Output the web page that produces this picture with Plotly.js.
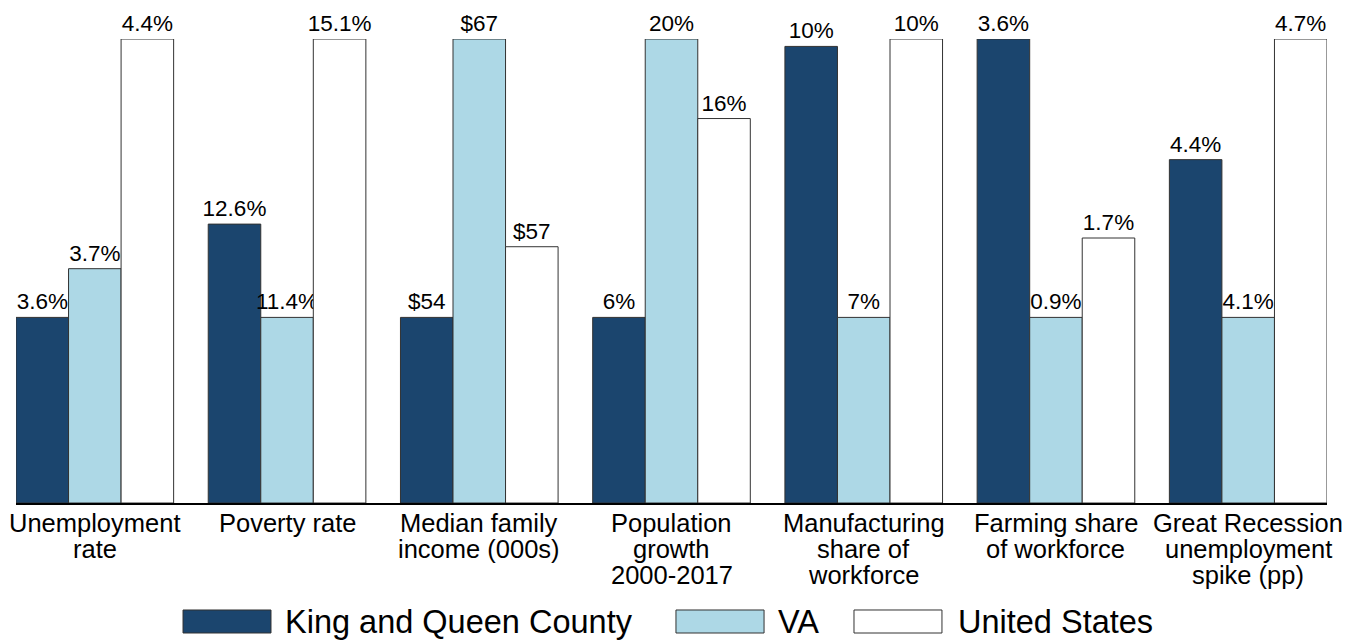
<!DOCTYPE html>
<html>
<head>
<meta charset="utf-8">
<script src="https://cdn.plot.ly/plotly-3.0.1.min.js"></script>
<style>
html,body{margin:0;padding:0;background:#fff;}
#chart{width:1361px;height:640px;}
</style>
</head>
<body>
<div id="chart"></div>
<script>
// ---- data ----
var categories = [
  "Unemployment<br>rate",
  "Poverty rate",
  "Median family<br>income (000s)",
  "Population<br>growth<br>2000-2017",
  "Manufacturing<br>share of<br>workforce",
  "Farming share<br>of workforce",
  "Great Recession<br>unemployment<br>spike (pp)"
];
var seriesNames = ["King and Queen County", "VA", "United States"];
var kingQueen = [3.6, 12.64, 54, 6, 9.92, 3.6, 4.44];
var virginia  = [3.74, 11.4, 67, 20, 7, 0.9, 4.1];
var usa       = [4.4, 15.1, 57.3, 16.0, 10, 1.67, 4.7];
var labelPrefix   = ["", "", "$", "", "", "", ""];
var labelSuffix   = ["%", "%", "", "%", "%", "%", "%"];
var labelDecimals = [1, 1, 0, 0, 0, 1, 1];

// ---- styles ----
var colors = ["rgb(27,69,110)", "rgb(173,216,230)", "#ffffff"];
var outline = "rgb(50,50,50)";
var FONT = "Liberation Sans, Arial, sans-serif";
var bargap = 0.18;
var floorShare = 0.4; // min bar of each group drawn at 40% of group max height

var allSeries = [kingQueen, virginia, usa];

// per-category min/max for normalised heights
var mins = categories.map(function(_, i){ return Math.min(kingQueen[i], virginia[i], usa[i]); });
var maxs = categories.map(function(_, i){ return Math.max(kingQueen[i], virginia[i], usa[i]); });

function norm(v, i){
  return floorShare + (1 - floorShare) * (v - mins[i]) / (maxs[i] - mins[i]);
}
function fmt(v, i){
  return labelPrefix[i] + v.toFixed(labelDecimals[i]) + labelSuffix[i];
}

var traces = allSeries.map(function(vals, s){
  return {
    type: "bar",
    name: seriesNames[s],
    x: categories,
    y: vals.map(norm),
    text: vals.map(fmt),
    textposition: "outside",
    constraintext: "none",
    cliponaxis: false,
    textfont: {family: FONT, size: 22.5, color: "#000"},
    marker: {color: colors[s], line: {color: outline, width: 1}},
    hoverinfo: "skip",
    showlegend: false
  };
});

var annotations = [];
// category labels, one annotation per line (tight line spacing)
categories.forEach(function(cat){
  cat.split("<br>").forEach(function(line, k){
    annotations.push({
      x: cat, xref: "x", y: 0, yref: "paper",
      yanchor: "top", xanchor: "center",
      yshift: -4 - 26 * k,
      text: line, showarrow: false,
      font: {family: FONT, size: 25.5, color: "#000"}
    });
  });
});

// custom legend with wide swatches
var legSwatchX = [[0.1274, 0.1945], [0.5034, 0.5706], [0.6392, 0.7063]];
var legTextX = [0.2037, 0.5797, 0.7170];
var shapes = [];
seriesNames.forEach(function(name, s){
  shapes.push({
    type: "rect", xref: "paper", yref: "paper",
    x0: legSwatchX[s][0], x1: legSwatchX[s][1], y0: -0.2802, y1: -0.2306,
    fillcolor: colors[s], line: {color: outline, width: 1}
  });
  annotations.push({
    x: legTextX[s], xref: "paper", y: -0.2554, yref: "paper",
    xanchor: "left", yanchor: "middle",
    text: name, showarrow: false,
    font: {family: FONT, size: 32.5, color: "#000"}
  });
});

var halfGroup = (1 - bargap) / 2;
var layout = {
  width: 1361, height: 640,
  margin: {l: 16, r: 34, t: 39, b: 137},
  paper_bgcolor: "#fff", plot_bgcolor: "#fff",
  barmode: "group", bargap: bargap, bargroupgap: 0,
  font: {family: FONT, color: "#000"},
  showlegend: false,
  xaxis: {
    type: "category",
    range: [-halfGroup, categories.length - 1 + halfGroup],
    showticklabels: false, ticks: "",
    showline: true, linecolor: "#000", linewidth: 2,
    showgrid: false, zeroline: false, fixedrange: true
  },
  yaxis: {
    range: [0, 1], visible: false, showgrid: false, zeroline: false, fixedrange: true
  },
  annotations: annotations,
  shapes: shapes
};

Plotly.newPlot("chart", traces, layout, {displayModeBar: false, staticPlot: true});
</script>
</body>
</html>
